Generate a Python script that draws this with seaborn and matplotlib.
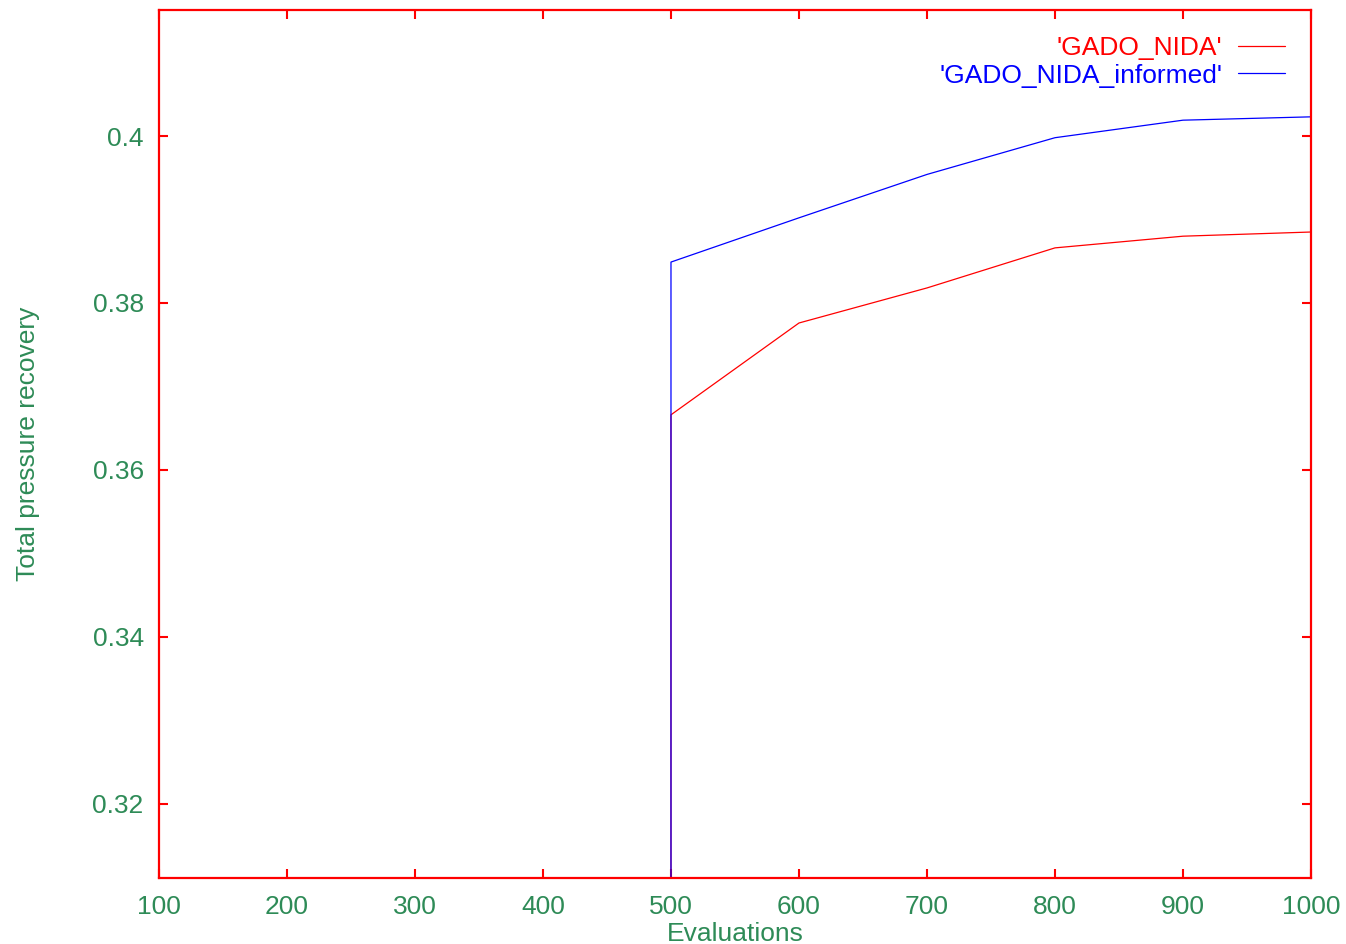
import pandas as pd
import matplotlib
matplotlib.use('Agg')
import matplotlib.pyplot as plt
import matplotlib.ticker as mticker
import seaborn as sns

# --- Data ---
evaluations = [500, 500, 600, 700, 800, 900, 1000]
gado_nida = [0.0, 0.3666, 0.3776, 0.3818, 0.3866, 0.3880, 0.3885]
gado_nida_informed = [0.0, 0.3849, 0.3902, 0.3954, 0.3998, 0.4019, 0.4023]
series_names = ["'GADO_NIDA'", "'GADO_NIDA_informed'"]
series_colors = ['#ff0000', '#0000ff']

x_ticks = [100, 200, 300, 400, 500, 600, 700, 800, 900, 1000]
y_ticks = [0.32, 0.34, 0.36, 0.38, 0.40]

df = pd.concat([
    pd.DataFrame({'Evaluations': evaluations, 'value': gado_nida, 'series': series_names[0]}),
    pd.DataFrame({'Evaluations': evaluations, 'value': gado_nida_informed, 'series': series_names[1]}),
], ignore_index=True)

# --- Style ---
sns.set_theme(style="white")
plt.rcParams['font.family'] = ['Liberation Sans', 'DejaVu Sans']
label_green = '#2e8b57'
frame_red = '#ff0000'

fig = plt.figure(figsize=(13.46, 9.44), dpi=100)
ax = fig.add_axes([0.1181, 0.0699, 0.8559, 0.9195])

sns.lineplot(data=df, x='Evaluations', y='value', hue='series', palette=series_colors,
             estimator=None, sort=False, linewidth=0.9, ax=ax)

ax.set_xlim(100, 1000)
ax.set_ylim(0.3111, 0.4151)
ax.set_xticks(x_ticks)
ax.set_yticks(y_ticks)
ax.yaxis.set_major_formatter(mticker.FormatStrFormatter('%g'))

for spine in ax.spines.values():
    spine.set_color(frame_red)
    spine.set_linewidth(1.6)

ax.tick_params(axis='both', which='major', direction='in', length=6.5, width=1.5,
               color=frame_red, labelcolor=label_green, labelsize=19,
               top=True, right=True, bottom=True, left=True)
ax.tick_params(axis='x', pad=12)
ax.tick_params(axis='y', pad=11)

ax.set_xlabel('Evaluations', fontsize=19, color=label_green, labelpad=2.5)
ax.set_ylabel('Total pressure recovery', fontsize=19, color=label_green)
ax.yaxis.set_label_coords(-0.103, 0.5)

leg = ax.legend(loc='upper right', frameon=False, markerfirst=False, fontsize=19,
                handlelength=1.75, labelspacing=0.12, handletextpad=0.6,
                borderaxespad=0.6, labelcolor='linecolor')

plt.savefig('out.png', dpi=100)
plt.close()
